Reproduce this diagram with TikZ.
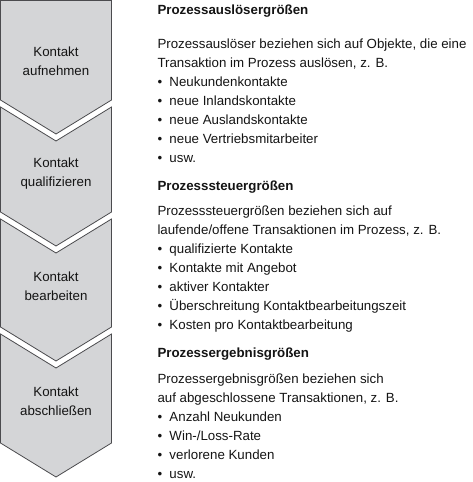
\documentclass[tikz,border=0pt]{standalone}
\usepackage{fontspec}
\setmainfont{Liberation Sans}
\definecolor{chevfill}{RGB}{212,213,215}
\definecolor{chevline}{RGB}{75,75,78}
\definecolor{txtcol}{RGB}{20,20,20}
\newcommand\myfont{\fontsize{13.3}{19}\selectfont}
\newcommand\mybul[1]{\makebox[12pt][l]{\textbullet}#1}
\begin{document}
\begin{tikzpicture}[x=1pt,y=-1pt,
  chev/.style={fill=chevfill, draw=chevline, line width=0.8pt, line join=miter},
  lbl/.style={anchor=base, inner sep=0pt, font=\myfont, text=txtcol},
  txt/.style={anchor=base west, inner sep=0pt, font=\myfont, text=txtcol},
  ttl/.style={anchor=base west, inner sep=0pt, font=\myfont\bfseries, text=txtcol}]
\useasboundingbox (0,0) rectangle (472,482);
% chevrons
\draw[chev] (0.5,0.4) -- (111.5,0.4) -- (111.5,100) -- (56,134) -- (0.5,100) -- cycle;
\draw[chev] (0.5,107) -- (56,141) -- (111.5,107) -- (111.5,212) -- (56,246) -- (0.5,212) -- cycle;
\draw[chev] (0.5,219) -- (56,253) -- (111.5,219) -- (111.5,327) -- (56,361) -- (0.5,327) -- cycle;
\draw[chev] (0.5,334) -- (56,368) -- (111.5,334) -- (111.5,443) -- (56,477) -- (0.5,443) -- cycle;
% chevron labels
\node[lbl] (c1a) at (56,56.5) {Kontakt};
\node[lbl] (c1b) at (56,75.5) {aufnehmen};
\node[lbl] (c2a) at (56,167) {Kontakt};
\node[lbl] (c2b) at (56,186) {qualifizieren};
\node[lbl] (c3a) at (56,281.5) {Kontakt};
\node[lbl] (c3b) at (56,300.5) {bearbeiten};
\node[lbl] (c4a) at (56,396.5) {Kontakt};
\node[lbl] (c4b) at (56,415.5) {abschließen};
% section 1
\node[ttl] (t1) at (157.3,14.5) {Prozessauslösergrößen};
\node[txt] (a1) at (157.3,48.5) {Prozessauslöser beziehen sich auf Objekte, die eine};
\node[txt] (a2) at (157.3,67.5) {Transaktion im Prozess auslösen, z. B.};
\node[txt] (a3) at (157.3,86.5) {\mybul{Neukundenkontakte}};
\node[txt] (a4) at (157.3,105.5) {\mybul{neue Inlandskontakte}};
\node[txt] (a5) at (157.3,124.5) {\mybul{neue Auslandskontakte}};
\node[txt] (a6) at (157.3,143.5) {\mybul{neue Vertriebsmitarbeiter}};
\node[txt] (a7) at (157.3,162.5) {\mybul{usw.}};
% section 2
\node[ttl] (t2) at (157.3,190.5) {Prozesssteuergrößen};
\node[txt] (b1) at (157.3,215.5) {Prozesssteuergrößen beziehen sich auf};
\node[txt] (b2) at (157.3,234.5) {laufende/offene Transaktionen im Prozess, z. B.};
\node[txt] (b3) at (157.3,253.5) {\mybul{qualifizierte Kontakte}};
\node[txt] (b4) at (157.3,272.5) {\mybul{Kontakte mit Angebot}};
\node[txt] (b5) at (157.3,291.5) {\mybul{aktiver Kontakter}};
\node[txt] (b6) at (157.3,310.5) {\mybul{Überschreitung Kontaktbearbeitungszeit}};
\node[txt] (b7) at (157.3,329.5) {\mybul{Kosten pro Kontaktbearbeitung}};
% section 3
\node[ttl] (t3) at (157.3,357.5) {Prozessergebnisgrößen};
\node[txt] (d1) at (157.3,383.5) {Prozessergebnisgrößen beziehen sich};
\node[txt] (d2) at (157.3,402.5) {auf abgeschlossene Transaktionen, z. B.};
\node[txt] (d3) at (157.3,421.5) {\mybul{Anzahl Neukunden}};
\node[txt] (d4) at (157.3,440.5) {\mybul{Win-/Loss-Rate}};
\node[txt] (d5) at (157.3,459.5) {\mybul{verlorene Kunden}};
\node[txt] (d6) at (157.3,478.5) {\mybul{usw.}};
\end{tikzpicture}
\end{document}
